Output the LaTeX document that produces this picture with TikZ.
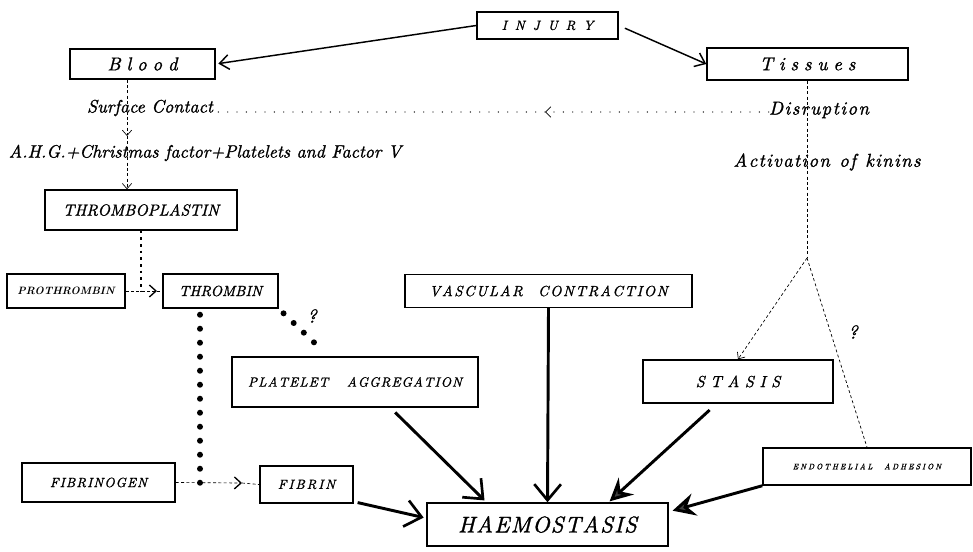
\documentclass[tikz,border=0pt]{standalone}
\usepackage{fontspec}
\setmainfont{lmroman10-regular.otf}[ItalicFont=lmroman10-italic.otf, BoldFont=lmroman10-bold.otf,
  BoldItalicFont=lmroman10-bolditalic.otf, ItalicFeatures={FakeBold=1.2}]
\usetikzlibrary{arrows.meta}

% letter spacing by hand: \spaced{kern}{LETTERS}, ~ for a space
\def\spaced#1#2{\def\spk{\kern#1}\spacedfirst#2\relax}
\def\spacedfirst#1{#1\spacedloop}
\def\spacedloop#1{\ifx#1\relax\else\spk#1\expandafter\spacedloop\fi}
\newcommand{\fsz}[1]{\fontsize{#1}{#1}\selectfont}

\begin{document}
\begin{tikzpicture}[x=0.75pt, y=-0.75pt,
  box/.style={draw, line width=1.1pt, inner sep=0pt, font=\itshape},
  note/.style={inner sep=0pt, font=\itshape},
  thinline/.style={line width=0.5pt, dash pattern=on 2.2pt off 1.8pt},
  sparse/.style={line width=1pt, line cap=round, dash pattern=on 0pt off 7pt},
  dotline/.style={line width=2pt, dash pattern=on 2pt off 3pt},
  bigdots/.style={line width=4.5pt, line cap=round, dash pattern=on 0pt off 10.5pt},
  smallhead/.style={-{Straight Barb[length=4pt, width=7pt]}},
  heavy/.style={line width=2.2pt, -{Straight Barb[length=12pt, width=20pt, line width=2pt]}},
  filled/.style={line width=2.2pt, -{Stealth[length=17pt, width=17pt, inset=6pt, fill=black!75]}}]
  \useasboundingbox (0,0) rectangle (973,552);

  % Boxes
  \node[box, minimum width=105.75pt, minimum height=20.25pt] (injury) at (547.5,25.5) {\fsz{10}\spaced{6pt}{INJURY}};
  \node[box, minimum width=108.75pt, minimum height=22.5pt] (blood) at (142.5,64) {\fsz{14}\spaced{4.4pt}{Blood}};
  \node[box, minimum width=150.75pt, minimum height=24pt] (tissues) at (807.5,64) {\fsz{14}\spaced{4.4pt}{Tissues}};
  \node[box, minimum width=144pt, minimum height=30pt] (thrombo) at (141,210) {\fsz{12}THROMBOPLASTIN};
  \node[box, minimum width=88.5pt, minimum height=25.5pt] (prothrombin) at (66,291) {\fsz{8}\bfseries PROTHROMBIN};
  \node[box, minimum width=86.25pt, minimum height=25.5pt] (thrombin) at (220.5,291) {\fsz{11}THROMBIN};
  \node[box, minimum width=215.25pt, minimum height=24.75pt] (vascular) at (548.5,291) {\fsz{11}\spaced{1.2pt}{VASCULAR~~CONTRACTION}};
  \node[box, minimum width=184.5pt, minimum height=37.5pt] (platelet) at (355,382) {\fsz{10}\spaced{0.8pt}{PLATELET~~~AGGREGATION}};
  \node[box, minimum width=142.5pt, minimum height=32.25pt] (stasis) at (738,381.5) {\fsz{12}\spaced{4.2pt}{STASIS}};
  \node[box, minimum width=114.75pt, minimum height=29.25pt] (fibrinogen) at (98.5,482.5) {\fsz{10}\spaced{0.8pt}{FIBRINOGEN}};
  \node[box, minimum width=69.75pt, minimum height=27.75pt] (fibrin) at (306.5,484.5) {\fsz{10}\spaced{1.4pt}{FIBRIN}};
  \node[box, minimum width=180.75pt, minimum height=32.25pt] (haemo) at (547.5,524.5) {\fsz{17}\spaced{0.9pt}{HAEMOSTASIS}};
  \node[box, minimum width=156pt, minimum height=27.75pt] (endo) at (867,466.5) {\fsz{6}\spaced{1.5pt}{ENDOTHELIAL~~ADHESION}};

  % Labels
  \node[note] (surface) at (150,108) {\fsz{13.5}Surface Contact};
  \node[note] (disrupt) at (819,110) {\fsz{14}\spaced{1.1pt}{Disruption}};
  \node[note] (kinins) at (827,162) {\fsz{14}\spaced{1pt}{Activation~of~kinins}};
  \node[note] (ahg) at (205,153) {\fsz{13.4}A.H.G.+Christmas factor+Platelets and Factor V};
  \node[note] (qa) at (312,316) {\fsz{14}?};
  \node[note] (qb) at (853,332) {\fsz{14}?};

  % Coordinates
  \coordinate (sc) at (127,136); % tip under surface contact
  \coordinate (lt) at (545,112); % arrow on the dotted line
  \coordinate (pt) at (157,291); % tip into thrombin
  \coordinate (fj) at (200,483); % dots meet fibrinogen line
  \coordinate (fa) at (242,483); % tip into fibrin
  \coordinate (pq) at (322,350); % dots end at platelet box
  \coordinate (split) at (807,258); % tissues line splits

  % Injury
  \draw[line width=1.1pt, -{Straight Barb[length=7pt, width=11pt]}, shorten >=2pt] (injury.west) -- (blood.east);
  \draw[line width=1.1pt, -{Straight Barb[length=7pt, width=11pt]}, shorten <=5pt] (injury.east) -- (tissues.west);

  % Blood side
  \draw[thinline, smallhead] (blood.south -| sc) -- (sc);
  \draw[thinline, smallhead] (sc) -- (thrombo.north -| sc);
  \draw[sparse, -{Straight Barb[length=4pt, width=8pt, line width=0.6pt]}] (disrupt.west |- lt) -- (lt);
  \draw[sparse] (lt) -- (surface.east |- lt);
  \draw[dotline] (thrombo.south) -- (thrombo.south |- pt);
  \draw[thinline, -{Straight Barb[length=5pt, width=9pt, line width=1pt]}] (prothrombin.east) -- (pt);
  \draw[thinline] (pt) -- (thrombin.west);
  \draw[bigdots] (thrombin.south -| fj) ++(0,6) -- (fj);
  \draw[bigdots, shorten <=5pt] (thrombin.south east) -- (pq);
  \draw[thinline, -{Straight Barb[length=5pt, width=9pt, line width=1pt]}] (fibrinogen.east) -- (fa);
  \draw[thinline] (fa) -- (fibrin.west);

  % Tissues side
  \draw[thinline] (tissues.south -| split) -- (split);
  \draw[thinline, smallhead] (split) -- (stasis.north);
  \draw[thinline] (split) -- (endo.north);

  % Into haemostasis
  \draw[heavy] (vascular.south) -- (haemo.north);
  \draw[heavy, shorten <=5pt, shorten >=2pt] (platelet.-36) -- (haemo.160);
  \draw[heavy, shorten <=3pt, shorten >=2pt] (fibrin.-20) -- (haemo.177);
  \draw[filled, shorten <=7pt, shorten >=1pt] (stasis.-134) -- (haemo.20);
  \draw[filled, shorten >=3pt] (endo.south west) -- (haemo.6);
\end{tikzpicture}
\end{document}
